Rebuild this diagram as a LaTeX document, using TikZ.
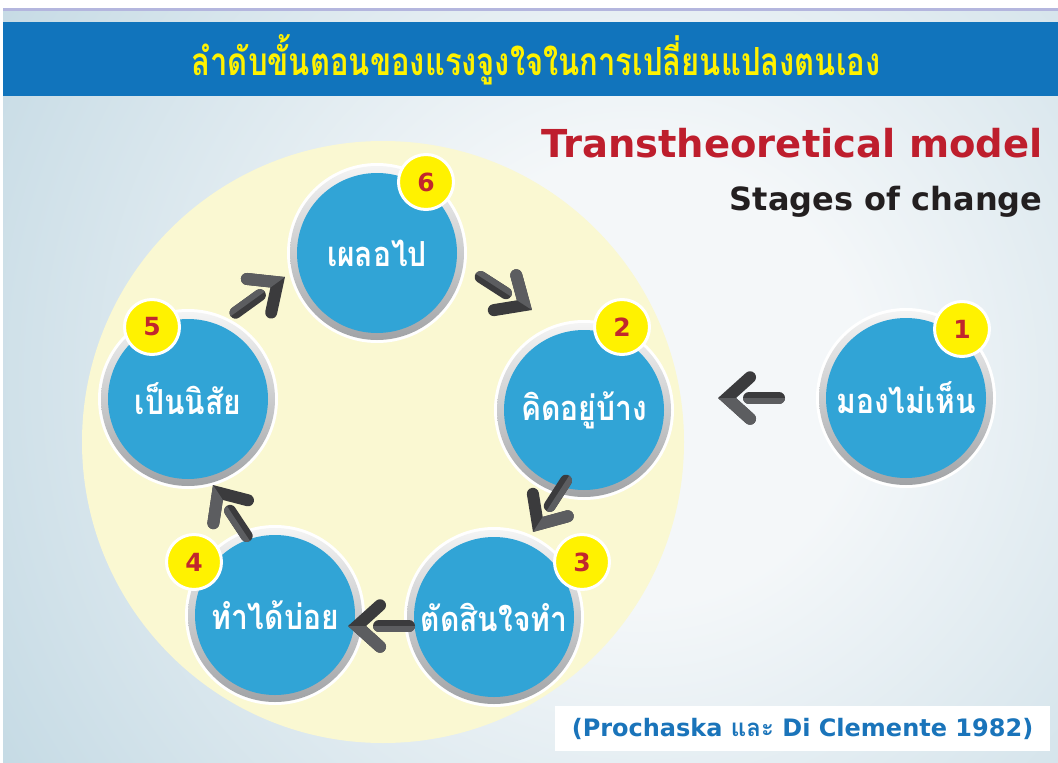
\documentclass[tikz,border=0pt]{standalone}
\usepackage{fontspec}
\setmainfont{DejaVu Sans}
\newfontfamily\thaifont[Script=Thai]{Loma}
\newfontfamily\latb{DejaVu Sans}
\usetikzlibrary{calc}
\definecolor{bgin}{HTML}{F4F7F9}
\definecolor{bgout}{HTML}{A9C9D8}
\definecolor{headblue}{HTML}{1174BC}
\definecolor{titleyellow}{HTML}{FFF200}
\definecolor{paleyellow}{HTML}{FAF8D2}
\definecolor{stageblue}{HTML}{31A4D6}
\definecolor{ringlight}{HTML}{F4F4F4}
\definecolor{ringdark}{HTML}{A1A3A6}
\definecolor{badgered}{HTML}{C1272D}
\definecolor{modelred}{HTML}{BE1E2D}
\definecolor{textdark}{HTML}{231F20}
\definecolor{citeblue}{HTML}{1A74BA}
\definecolor{arrowdark}{HTML}{3B3B3D}
\definecolor{arrowlight}{HTML}{5C5D60}
\definecolor{lavender}{HTML}{B4B6DE}
\pgfdeclareradialshading{bgshade}{\pgfpoint{0bp}{0bp}}{color(0bp)=(bgin); color(8bp)=(bgin); color(38bp)=(bgout); color(50bp)=(bgout)}
\newcommand\tallthai[2]{\scalebox{1}[#1]{#2}}
\tikzset{
  outerw/.style={circle, fill=white, minimum size=180pt, inner sep=0pt},
  ringsh/.style={circle, top color=ringlight, bottom color=ringdark, minimum size=174pt, inner sep=0pt},
  stagebox/.style={circle, fill=stageblue, minimum size=160pt, inner sep=0pt, text=white,
    font=\thaifont\bfseries\fontsize{30}{36}\selectfont},
  badge/.style={circle, fill=titleyellow, draw=white, line width=3pt, minimum size=55pt, inner sep=0pt,
    text=badgered, font=\latb\bfseries\fontsize{25}{30}\selectfont},
}
% chevron arrow: #1 tip, #2 tail (direction only)
\newcommand\chevarrow[2]{%
  \coordinate (ap) at ($(#1)!9pt!(#2)$);
  \coordinate (sa) at ($(#1)!31pt!(#2)$);
  \coordinate (sb) at ($(#1)!61pt!(#2)$);
  \coordinate (ea) at ($(ap)!31pt!42:(#2)$);
  \coordinate (eb) at ($(ap)!31pt!-42:(#2)$);
  \draw[arrowdark, line width=12pt, line cap=round, miter limit=10] (ea) -- (ap) -- (eb);
  \draw[arrowdark, line width=12pt, line cap=round] (sa) -- (sb);
  \begin{scope}
    \coordinate (ha) at ($(#1)!-30pt!(#2)$);
    \coordinate (hb) at ($(#1)!100pt!(#2)$);
    \clip (ha) -- (hb) -- ($(hb)!60pt!90:(ha)$) -- ($(ha)!60pt!-90:(hb)$) -- cycle;
    \draw[arrowlight, line width=12pt, line cap=round, miter limit=10] (ea) -- (ap) -- (eb);
    \draw[arrowlight, line width=12pt, line cap=round] (sa) -- (sb);
  \end{scope}
}
\begin{document}
\begin{tikzpicture}[x=1pt, y=-1pt]
\useasboundingbox (0,0) rectangle (1058,763);
\fill[white] (0,0) rectangle (1058,763);
\begin{scope}
  \clip (3,11) rectangle (1058,763);
  \shade[shading=bgshade] (-60,-320) rectangle (1340,1080);
\end{scope}
\fill[lavender] (3,8) rectangle (1058,11);
\fill[headblue] (3,22) rectangle (1058,96);
\node[font=\thaifont\bfseries\fontsize{31}{36}\selectfont, text=titleyellow] (title) at (536,60)
  {\tallthai{1.25}{ลำดับขั้นตอนของแรงจูงใจในการเปลี่ยนแปลงตนเอง}};

\fill[paleyellow] (383,442) circle (301pt);

\node[anchor=base east, text=modelred, font=\latb\bfseries\fontsize{38.5}{44}\selectfont] (model) at (1046,157) {Transtheoretical model};
\node[anchor=base east, text=textdark, font=\latb\bfseries\fontsize{32}{38}\selectfont] (stages) at (1046,210) {Stages of change};

% stages
\foreach \n/\x/\y in {1/906/398, 2/584/410, 3/494/617, 4/275/615, 5/188/399, 6/377/253}{
  \node[outerw] (w\n) at (\x,\y) {};
  \node[ringsh] (r\n) at (\x,\y) {};
}
\node[stagebox] (s1) at (906,398) {\tallthai{1.15}{มองไม่เห็น}};
\node[stagebox] (s2) at (584,410) {\tallthai{1.15}{คิดอยู่บ้าง}};
\node[stagebox] (s3) at (494,617) {\tallthai{1.15}{ตัดสินใจทำ}};
\node[stagebox] (s4) at (275,615) {\tallthai{1.15}{ทำได้บ่อย}};
\node[stagebox] (s5) at (188,399) {\tallthai{1.15}{เป็นนิสัย}};
\node[stagebox] (s6) at (377,253) {\tallthai{1.15}{เผลอไป}};

\node[badge] (b1) at (962,329) {1};
\node[badge] (b2) at (622,327) {2};
\node[badge] (b3) at (582,562) {3};
\node[badge] (b4) at (194,562) {4};
\node[badge] (b5) at (152,327) {5};
\node[badge] (b6) at (426,182) {6};

% arrows
\coordinate (t12) at (718,398);  \coordinate (l12) at (785,398);
\coordinate (t34) at (348,626);  \coordinate (l34) at (415,626);
\coordinate (t62) at (532,310);  \coordinate (l62) at (476,274);
\coordinate (t23) at (533,532);  \coordinate (l23) at (569,476);
\coordinate (t45) at (213,485);  \coordinate (l45) at (250,541);
\coordinate (t56) at (285,277);  \coordinate (l56) at (231,316);
\chevarrow{t12}{l12}
\chevarrow{t34}{l34}
\chevarrow{t62}{l62}
\chevarrow{t23}{l23}
\chevarrow{t45}{l45}
\chevarrow{t56}{l56}

% citation
\node[fill=white, minimum width=495pt, minimum height=45pt, inner sep=0pt, text=citeblue,
  font=\latb\bfseries\fontsize{24}{28}\selectfont] (cite) at (802.5,728.5)
  {(Prochaska {\thaifont\bfseries และ} Di Clemente 1982)};
\end{tikzpicture}
\end{document}
